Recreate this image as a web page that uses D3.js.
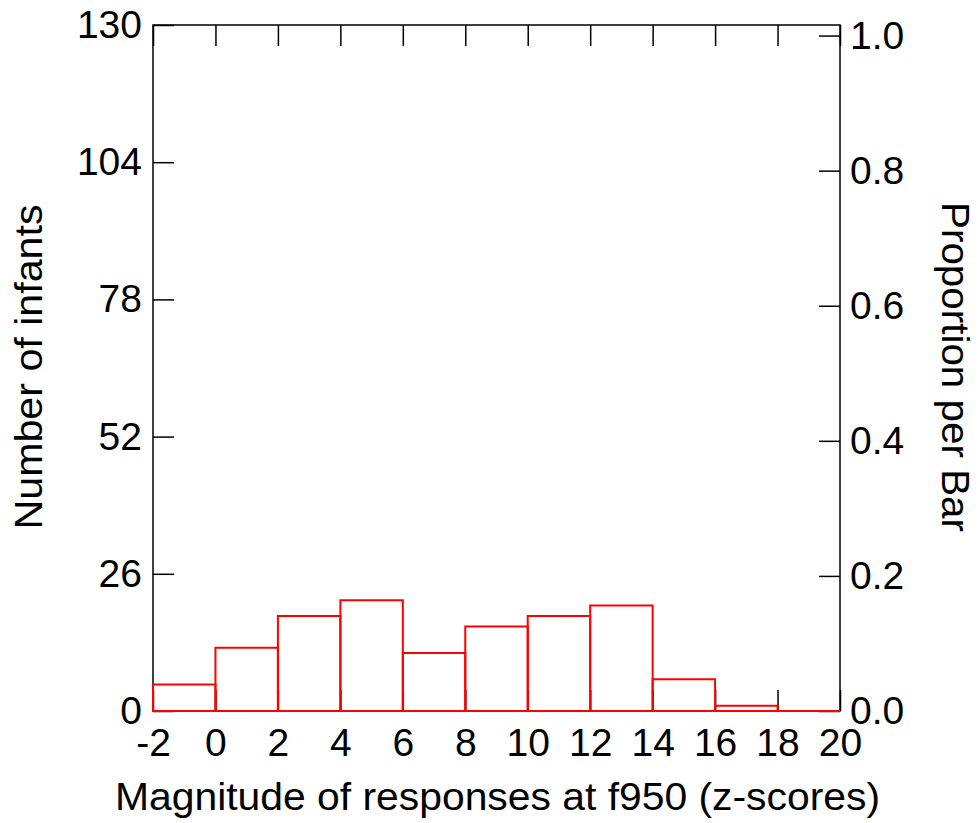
<!DOCTYPE html>
<html>
<head>
<meta charset="utf-8">
<script src="https://cdn.jsdelivr.net/npm/d3@7"></script>
<style>
  body { margin: 0; background: #fff; }
  svg text { font-family: "Liberation Sans", Arial, sans-serif; fill: #000; }
</style>
</head>
<body>
<svg id="chart"></svg>
<script>
// Histogram bins (z-score edges) and counts per bin
let binStarts = [-2, 0, 2, 4, 6, 8, 10, 12, 14, 16, 18];
let binWidth = 2;
let counts = [5, 12, 18, 21, 11, 16, 18, 20, 6, 1, 0];

let xTicks = [-2, 0, 2, 4, 6, 8, 10, 12, 14, 16, 18, 20];
let countTicks = [0, 26, 52, 78, 104, 130];
let propTicks = [0, 0.2, 0.4, 0.6, 0.8, 1.0];

let xLabel = "Magnitude of responses at f950 (z-scores)";
let yLabel = "Number of infants";
let y2Label = "Proportion per Bar";

// Basic values for the SVG
let width = 978;
let height = 823;
let plotLeft = 153, plotRight = 840, plotTop = 25, plotBottom = 711;
let tickLen = 21;
let fontSize = 39;

let svg = d3.select("#chart").attr("width", width).attr("height", height);

let total = d3.sum(counts);

let x = d3.scaleLinear().domain([-2, 20]).range([plotLeft, plotRight]);
let y = d3.scaleLinear().domain([0, 130]).range([plotBottom, plotTop]);
let yProp = d3.scaleLinear().domain([0, 1]).range([y(0), y(total)]);

// Axes, all ticks pointing inward
function styleAxis(g){
    g.select(".domain").remove();
    g.selectAll(".tick line").attr("stroke", "#000").attr("stroke-width", 1.5);
    g.selectAll(".tick text").style("font-size", fontSize + "px").attr("fill", "#000");
}

// plain hyphen for negatives, like the original
let intFormat = function(d){ return String(d); };

svg.append("g")
    .attr("transform", "translate(0," + plotBottom + ")")
    .call(d3.axisBottom(x).tickValues(xTicks).tickSizeInner(-tickLen).tickSizeOuter(0).tickPadding(17).tickFormat(intFormat))
    .call(styleAxis);

svg.append("g")
    .attr("transform", "translate(0," + plotTop + ")")
    .call(d3.axisTop(x).tickValues(xTicks).tickSizeInner(-tickLen).tickSizeOuter(0).tickFormat(""))
    .call(styleAxis);

svg.append("g")
    .attr("transform", "translate(" + plotLeft + ",0)")
    .call(d3.axisLeft(y).tickValues(countTicks).tickSizeInner(-tickLen).tickSizeOuter(0).tickPadding(11).tickFormat(intFormat))
    .call(styleAxis);

svg.append("g")
    .attr("transform", "translate(" + plotRight + ",0)")
    .call(d3.axisRight(yProp).tickValues(propTicks).tickSizeInner(-tickLen).tickSizeOuter(0).tickPadding(10).tickFormat(d3.format(".1f")))
    .call(styleAxis);

// Frame
svg.append("rect")
    .attr("x", plotLeft).attr("y", plotTop)
    .attr("width", plotRight - plotLeft).attr("height", plotBottom - plotTop)
    .attr("fill", "none").attr("stroke", "#000").attr("stroke-width", 1.5);

// Bars as open paths so that empty bins still show on the baseline
svg.selectAll(".bar")
    .data(binStarts)
    .enter()
    .append("path")
    .attr("class", "bar")
    .attr("d", function(value, index){
        let x0 = x(value), x1 = x(value + binWidth);
        let y0 = y(0), y1 = y(counts[index]);
        return "M" + x0 + "," + y0 + "V" + y1 + "H" + x1 + "V" + y0 + "Z";
    })
    .attr("fill", "none")
    .attr("stroke", "#f00")
    .attr("stroke-width", 2);

// Axis titles
svg.append("text")
    .attr("x", (115 + 880) / 2).attr("y", 810)
    .attr("text-anchor", "middle")
    .attr("textLength", 765)
    .attr("lengthAdjust", "spacingAndGlyphs")
    .style("font-size", "38px")
    .text(xLabel);

svg.append("text")
    .attr("transform", "translate(42,367) rotate(-90)")
    .attr("text-anchor", "middle")
    .attr("textLength", 325)
    .attr("lengthAdjust", "spacingAndGlyphs")
    .style("font-size", "38px")
    .text(yLabel);

svg.append("text")
    .attr("transform", "translate(942,367) rotate(90)")
    .attr("text-anchor", "middle")
    .attr("textLength", 330)
    .attr("lengthAdjust", "spacingAndGlyphs")
    .style("font-size", "38px")
    .text(y2Label);
</script>
</body>
</html>
